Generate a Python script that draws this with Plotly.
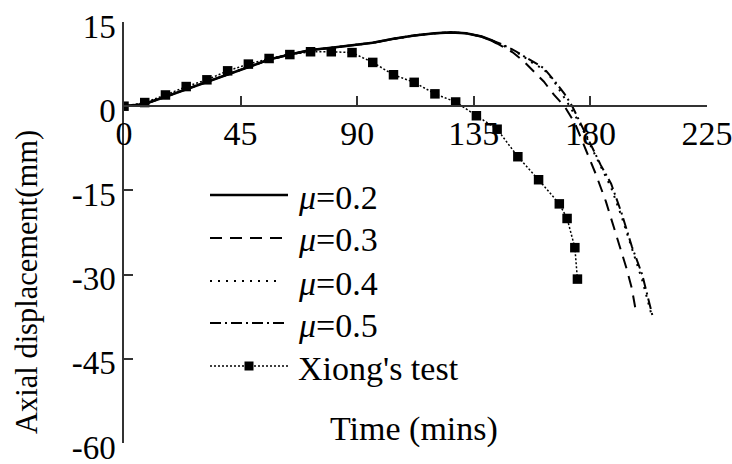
import plotly.graph_objects as go

# ---- data -------------------------------------------------------------
# numerical results: shared rising branch, then separate descending branches
t_common = [0, 8, 16, 24, 32, 40, 48, 56, 64, 72, 80, 88, 96, 104, 112, 120, 126, 132, 138, 142]
d_common = [0, 0.4, 1.7, 3.0, 4.3, 5.6, 6.9, 8.3, 9.2, 10.0, 10.4, 10.8, 11.3, 12.0, 12.6, 13.0, 13.15, 13.0, 12.4, 11.7]

t_mu02 = t_common + [144]
d_mu02 = d_common + [11.2]

t_mu03 = t_common + [146, 150, 154, 158, 162, 166, 170, 174, 178, 182, 186, 190, 194, 196, 197.5]
d_mu03 = d_common + [10.7, 9.6, 8.1, 6.3, 4.4, 2.0, 0.0, -3.0, -7.6, -12.0, -17.0, -23.0, -29.0, -32.5, -36.4]

t_mu04 = t_common + [146, 150, 154, 158, 162, 166, 169, 172, 176, 180, 184, 188, 192, 196, 200, 203.5]
d_mu04 = d_common + [10.9, 10.0, 8.9, 7.6, 6.6, 4.4, 2.2, 0.0, -3.2, -7.0, -10.7, -14.5, -19.6, -25.5, -31.0, -37.0]

t_mu05 = t_common + [146, 150, 154, 158, 162, 166, 170, 173, 176, 180, 184, 188, 192, 196, 200, 204]
d_mu05 = d_common + [11.0, 10.1, 9.0, 7.8, 6.8, 4.6, 2.2, 0.0, -2.8, -6.8, -10.5, -13.8, -19.0, -25.0, -30.0, -37.4]

# Xiong's fire test
t_test = [0, 8, 16, 24, 32, 40, 48, 56, 64, 72, 80, 88, 96, 104, 112, 120, 128, 136, 144, 152, 160, 168, 171, 174, 175]
d_test = [0, 0.65, 2.0, 3.5, 4.7, 6.3, 7.5, 8.5, 9.2, 9.7, 9.7, 9.55, 7.8, 5.6, 4.25, 2.2, 0.75, -1.7, -4.1, -9.0, -13.1, -17.4, -20.0, -25.2, -30.8]

x_ticks = [0, 45, 90, 135, 180, 225]
y_ticks = [-60, -45, -30, -15, 0, 15]
series_names = ["<i>μ</i>=0.2", "<i>μ</i>=0.3", "<i>μ</i>=0.4", "<i>μ</i>=0.5", "Xiong's test"]

# ---- styling ----------------------------------------------------------
FONT = "Liberation Serif, Times New Roman, serif"
FS = 34
W, H = 732, 464
L, R, T, B = 124, 25, 22, 21
AX = "#333333"

styles = [
    dict(color="black", width=2.6, dash="solid"),
    dict(color="black", width=2.0, dash="12px,8px"),
    dict(color="black", width=2.0, dash="2px,6px"),
    dict(color="black", width=2.0, dash="11px,4px,2px,4px"),
    dict(color="black", width=1.5, dash="2px,2px"),
]


def paper_x(px):
    return (px - L) / (W - L - R)


def paper_y(py):
    return (H - B - py) / (H - T - B)


fig = go.Figure()
curves = [(t_mu02, d_mu02), (t_mu03, d_mu03), (t_mu04, d_mu04), (t_mu05, d_mu05)]
for (tx, dy), st in zip(curves, styles[:4]):
    fig.add_trace(go.Scatter(x=tx, y=dy, mode="lines", line=st, showlegend=False,
                             hoverinfo="skip"))

fig.add_trace(go.Scatter(x=t_test, y=d_test, mode="lines+markers", line=styles[4],
                         marker=dict(symbol="square", size=9.5, color="black"),
                         showlegend=False))

# ---- key (drawn on a pixel-scaled overlay axis pair) -------------------
key_rows = [195, 238, 281, 323, 366]
key_x0, key_x1, key_text_x = 210, 288, 296
for i, (row, st, name) in enumerate(zip(key_rows, styles, series_names)):
    x1 = 278 if i == 2 else key_x1
    fig.add_trace(go.Scatter(x=[key_x0, x1], y=[row, row], mode="lines", line=st,
                             xaxis="x2", yaxis="y2", showlegend=False, hoverinfo="skip"))
    if i == 4:
        fig.add_trace(go.Scatter(x=[(key_x0 + key_x1) / 2], y=[row], mode="markers",
                                 marker=dict(symbol="square", size=9, color="black"),
                                 xaxis="x2", yaxis="y2", showlegend=False, hoverinfo="skip"))
    fig.add_annotation(x=paper_x(key_text_x), y=paper_y(row + 2), xref="paper", yref="paper",
                       text=name, showarrow=False, xanchor="left", yanchor="middle",
                       font=dict(family=FONT, size=FS, color="black"))

# axis titles
fig.add_annotation(x=paper_x(414), y=paper_y(429), xref="paper", yref="paper",
                   text="Time (mins)", showarrow=False, xanchor="center", yanchor="middle",
                   font=dict(family=FONT, size=FS, color="black"))
fig.add_annotation(x=paper_x(27), y=paper_y(282), xref="paper", yref="paper",
                   text="Axial displacement(mm)", showarrow=False, textangle=-90,
                   xanchor="center", yanchor="middle",
                   font=dict(family=FONT, size=30.5, color="black"))

fig.update_layout(
    width=W, height=H,
    margin=dict(l=L, r=R, t=T, b=B, autoexpand=False),
    paper_bgcolor="white", plot_bgcolor="white",
    font=dict(family=FONT, size=FS, color="black"),
    xaxis=dict(range=[0, 225], tickvals=x_ticks, ticktext=[str(v) for v in x_ticks],
               ticks="inside", ticklen=9, tickcolor=AX, tickwidth=1.5,
               showline=True, linecolor=AX, linewidth=1.5,
               showgrid=False, zeroline=False, anchor="free", automargin=False,
               position=(0 - y_ticks[0]) / (y_ticks[-1] - y_ticks[0]),
               ticklabelstandoff=-3, ticklabeloverflow="allow",
               tickfont=dict(family=FONT, size=FS, color="black")),
    yaxis=dict(range=[-60, 15], tickvals=y_ticks, ticktext=[str(v) for v in y_ticks],
               ticks="inside", ticklen=9, tickcolor=AX, tickwidth=1.5,
               showline=True, linecolor=AX, linewidth=1.5, automargin=False,
               showgrid=False, zeroline=False, ticklabeloverflow="allow",
               ticklabelshift=4,
               tickfont=dict(family=FONT, size=33, color="black")),
    xaxis2=dict(range=[L, W - R], overlaying="x", visible=False, fixedrange=True),
    yaxis2=dict(range=[H - B, T], overlaying="y", visible=False, fixedrange=True),
)

fig.write_html("out.html")
